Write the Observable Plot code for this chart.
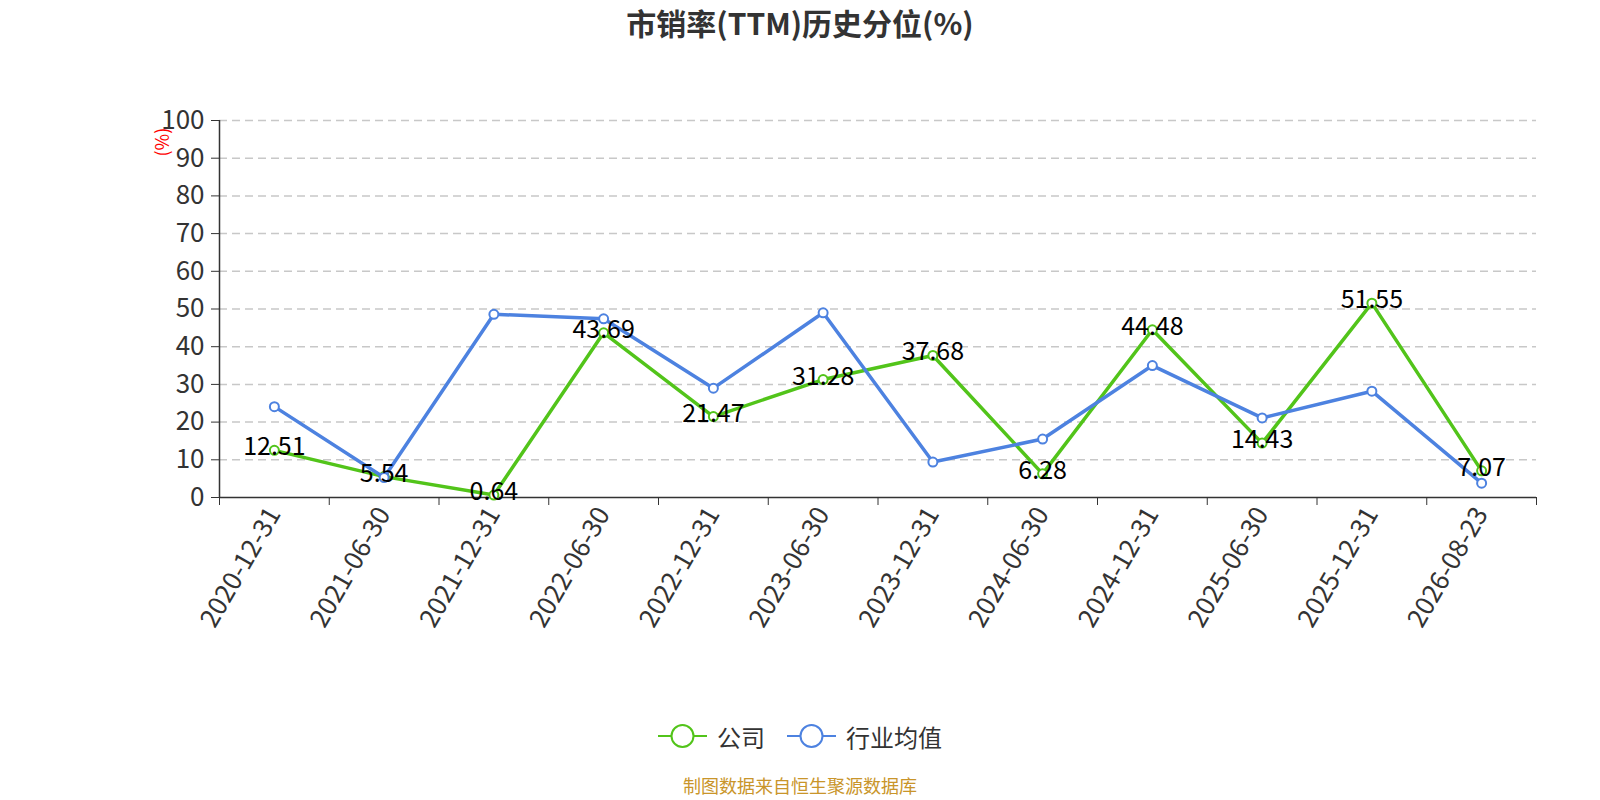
<!DOCTYPE html>
<html>
<head>
<meta charset="utf-8">
<script src="https://cdn.jsdelivr.net/npm/d3@7"></script>
<script src="https://cdn.jsdelivr.net/npm/@observablehq/plot@0.6"></script>
<style>
  html, body { margin: 0; padding: 0; background: #fff; overflow: hidden; }
  #wrap { width: 1600px; height: 800px; position: relative; overflow: hidden; font-family: "Noto Sans CJK SC", "Noto Sans", sans-serif; }
  #title { position: absolute; left: 0; top: 0; width: 1600px; height: 45px; line-height: 45px; text-align: center; font-size: 30px; font-weight: bold; color: #333; }
  #chart { position: absolute; left: 0; top: 50px; }
  #legend { position: absolute; left: 0; top: 718px; width: 1600px; height: 36px; display: flex; justify-content: center; align-items: center; font-size: 24px; color: #333; }
  .item { display: flex; align-items: center; margin: 0 11px; }
  .item svg { margin-right: 10px; }
  #caption { position: absolute; left: 0; top: 774px; width: 1600px; height: 22px; line-height: 22px; text-align: center; font-size: 18px; color: #c9952a; }
</style>
</head>
<body>
<div id="wrap">
<div id="title">市销率(TTM)历史分位(%)</div>
<div id="chart"></div>
<div id="legend"></div>
<div id="caption">制图数据来自恒生聚源数据库</div>
</div>
<script>
const dates = ["2020-12-31","2021-06-30","2021-12-31","2022-06-30","2022-12-31","2023-06-30","2023-12-31","2024-06-30","2024-12-31","2025-06-30","2025-12-31","2026-08-23"];
const companyValues = [12.51, 5.54, 0.64, 43.69, 21.47, 31.28, 37.68, 6.28, 44.48, 14.43, 51.55, 7.07];
const industryValues = [24.1, 5.3, 48.6, 47.4, 29.0, 49.0, 9.4, 15.5, 35.0, 21.1, 28.2, 3.8];
const yTicks = [0, 10, 20, 30, 40, 50, 60, 70, 80, 90, 100];
const seriesNames = ["公司", "行业均值"];
const colors = ["#52c41a", "#4d82e0"];

const data = dates.map((d, i) => ({ i: i + 0.5, date: d, company: companyValues[i], industry: industryValues[i] }));
const boundaries = d3.range(dates.length + 1);

const chart = Plot.plot({
  width: 1600,
  height: 650,
  marginLeft: 219,
  marginRight: 64,
  marginTop: 70,
  marginBottom: 203,
  style: { fontFamily: "'Noto Sans CJK SC', 'Noto Sans', sans-serif", background: "#fff" },
  x: { domain: [0, dates.length], axis: null },
  y: { domain: [0, 100], axis: null },
  marks: [
    Plot.gridY(yTicks.filter(v => v > 0), { stroke: "#c8c8c8", strokeOpacity: 1, strokeWidth: 1.5, strokeDasharray: "8,5" }),
    Plot.axisY({ ticks: yTicks, tickSize: 8, tickPadding: 7, fontSize: 26, color: "#333", label: null, tickFormat: d => String(d) }),
    Plot.ruleX([0], { stroke: "#333", strokeWidth: 1.5 }),
    Plot.ruleY([0], { stroke: "#333", strokeWidth: 1.5 }),
    Plot.axisX({ ticks: boundaries, tickSize: 8, tickFormat: () => "", label: null, color: "#333" }),
    Plot.axisX({ ticks: data.map(d => d.i), tickSize: 0, tickPadding: 12, tickRotate: -60, fontSize: 26, color: "#333", label: null, tickFormat: v => dates[Math.floor(v)] }),
    Plot.text(["(%)"], { frameAnchor: "top-left", dx: -63, dy: 36, rotate: -90, fill: "red", fontSize: 18, text: d => d }),
    Plot.line(data, { x: "i", y: "company", stroke: colors[0], strokeWidth: 3.5 }),
    Plot.dot(data, { x: "i", y: "company", r: 4.5, fill: "#fff", stroke: colors[0], strokeWidth: 2 }),
    Plot.line(data, { x: "i", y: "industry", stroke: colors[1], strokeWidth: 3.5 }),
    Plot.dot(data, { x: "i", y: "industry", r: 4.5, fill: "#fff", stroke: colors[1], strokeWidth: 2 }),
    Plot.text(data, { x: "i", y: "company", text: d => d.company.toFixed(2), fontSize: 25, fill: "#000", dy: -3, lineAnchor: "middle" })
  ]
});
document.getElementById("chart").appendChild(chart);

const legend = document.getElementById("legend");
seriesNames.forEach((name, k) => {
  const item = document.createElement("div");
  item.className = "item";
  item.innerHTML = `<svg width="49" height="28"><line x1="0" y1="14" x2="49" y2="14" stroke="${colors[k]}" stroke-width="2"/><circle cx="24.5" cy="14" r="11" fill="#fff" stroke="${colors[k]}" stroke-width="2"/></svg><span>${name}</span>`;
  legend.appendChild(item);
});
</script>
</body>
</html>
